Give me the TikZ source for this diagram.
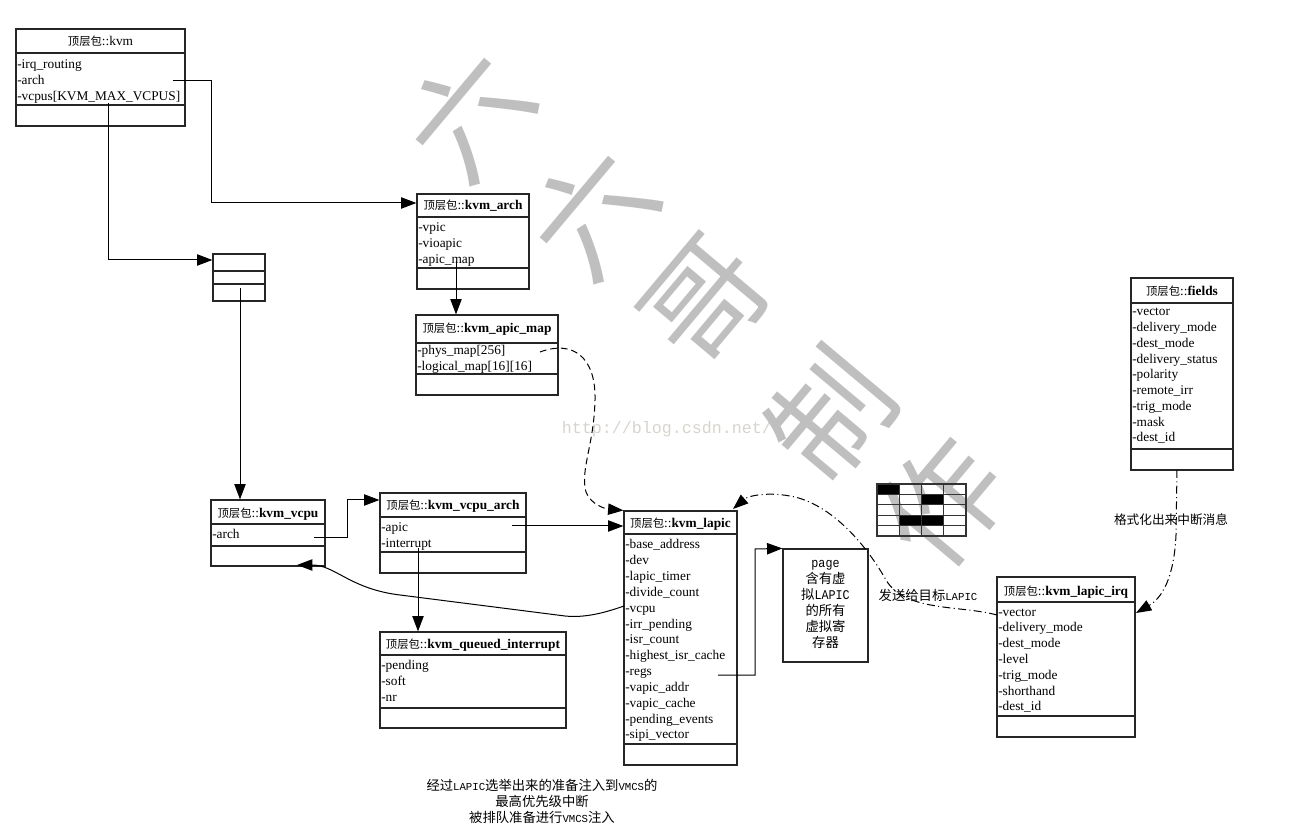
\documentclass[tikz,border=0pt]{standalone}
\usepackage{fontspec}
\setmainfont{Liberation Serif}
\newfontfamily\cjk{Noto Sans CJK SC}
\newfontfamily\mono{Liberation Mono}
\usetikzlibrary{arrows.meta,fit,calc}
\newcommand{\pkg}{{\cjk\fontsize{8.5}{10}\selectfont 顶层包}::}
\newcommand{\lat}[1]{{\mono\fontsize{8}{10}\selectfont #1}}
\newcommand{\latb}[1]{{\mono\fontsize{10}{12}\selectfont\scalebox{0.88}[1]{#1}}}
\begin{document}
\begin{tikzpicture}[x=0.75pt,y=-0.75pt,
  cls/.style={draw=black!85, line width=0.9pt, inner sep=0pt},
  sepline/.style={draw=black!85, line width=0.9pt},
  attr/.style={anchor=base west, inner sep=0pt, font=\fontsize{10}{12}\selectfont},
  ttl/.style={anchor=base, inner sep=0pt, font=\fontsize{10}{12}\selectfont},
  conn/.style={line width=0.75pt, -{Triangle[length=11.5pt,width=8.5pt]}},
  dashpat/.style={dash pattern=on 5pt off 3pt},
  dashdotpat/.style={dash pattern=on 6pt off 2.5pt on 0.8pt off 2.5pt},
  lbl/.style={inner sep=0pt, font=\cjk\fontsize{10}{12}\selectfont, align=center},
  wm/.style={rotate=50, text=black!25, inner sep=0pt, font=\cjk\fontsize{90}{90}\selectfont}]
\useasboundingbox (0,0) rectangle (1314,837);

% ---- watermark (behind)
\node[inner sep=0pt, text={rgb,255:red,215;green,212;blue,205}, font=\mono\fontsize{12.5}{14}\selectfont] (url) at (667,429) {http://blog.csdn.net/};
\foreach \ch/\px/\py [count=\i] in {六/468/114,六/592/212,哥/706/302,制/830/414,作/942/502}
  \node[wm] (wm\i) at (\px,\py) {\ch};

% ---- kvm
\node[cls, fit={(16,29)(185,126)}] (kvm) {};
\draw[sepline] (16,53) -- (185,53) (16,105) -- (185,105);
\node[ttl] (kvm-t) at (100.5,46) {\pkg kvm};
\node[attr] (kvm-a0) at (17,68.5) {-irq\_routing};
\node[attr] (kvm-a1) at (17,84.5) {-arch};
\node[attr] (kvm-a2) at (17,100.5) {-vcpus[KVM\_MAX\_VCPUS]};

% ---- array
\node[cls, fit={(213,254)(265,301)}] (arr) {};
\draw[sepline] (213,271) -- (265,271) (213,284) -- (265,284);

% ---- kvm_arch
\node[cls, fill=white, fit={(417,194)(529,289)}] (kvmarch) {};
\draw[sepline] (417,217) -- (529,217) (417,268) -- (529,268);
\node[ttl] (kvmarch-t) at (473,209.5) {\pkg\textbf{kvm\_arch}};
\foreach \t [count=\i from 0] in {-vpic,-vioapic,-apic\_map}
  \node[attr] (kvmarch-a\i) at (418,231.5+15.8*\i) {\t};

% ---- kvm_apic_map
\node[cls, fit={(416,315)(558,395)}] (apicmap) {};
\draw[sepline] (416,343) -- (558,343) (416,374) -- (558,374);
\node[ttl] (apicmap-t) at (487,333) {\pkg\textbf{kvm\_apic\_map}};
\node[attr] (apicmap-a0) at (417,355) {-phys\_map[256]};
\node[attr] (apicmap-a1) at (417,370.5) {-logical\_map[16][16]};

% ---- kvm_vcpu
\node[cls, fit={(211,500)(325,566)}] (vcpu) {};
\draw[sepline] (211,524) -- (325,524) (211,546) -- (325,546);
\node[ttl] (vcpu-t) at (268,517.5) {\pkg\textbf{kvm\_vcpu}};
\node[attr] (vcpu-a0) at (212,538.5) {-arch};

% ---- kvm_vcpu_arch
\node[cls, fit={(380,493)(526,573)}] (vcpuarch) {};
\draw[sepline] (380,517) -- (526,517) (380,552) -- (526,552);
\node[ttl] (vcpuarch-t) at (453,509.5) {\pkg\textbf{kvm\_vcpu\_arch}};
\node[attr] (vcpuarch-a0) at (381,531.5) {-apic};
\node[attr] (vcpuarch-a1) at (381,547.5) {-interrupt};

% ---- kvm_queued_interrupt
\node[cls, fit={(380,632)(566,728)}] (queued) {};
\draw[sepline] (380,655) -- (566,655) (380,708) -- (566,708);
\node[ttl] (queued-t) at (473,648.5) {\pkg\textbf{kvm\_queued\_interrupt}};
\foreach \t [count=\i from 0] in {-pending,-soft,-nr}
  \node[attr] (queued-a\i) at (381,669.5+16*\i) {\t};

% ---- kvm_lapic
\node[cls, fit={(624,511)(737,765)}] (lapic) {};
\draw[sepline] (624,534) -- (737,534) (624,744) -- (737,744);
\node[ttl] (lapic-t) at (680.5,527.5) {\pkg\textbf{kvm\_lapic}};
\foreach \t [count=\i from 0] in {-base\_address,-dev,-lapic\_timer,-divide\_count,-vcpu,-irr\_pending,-isr\_count,-highest\_isr\_cache,-regs,-vapic\_addr,-vapic\_cache,-pending\_events,-sipi\_vector}
  \node[attr] (lapic-a\i) at (625,549+15.83*\i) {\t};

% ---- page
\node[cls, fit={(783,549)(868,662)}] (page) {};
\node[lbl, font=\cjk\fontsize{10}{12}\selectfont] (page-t) at (825.5,604)
  {\latb{page}\\含有虚\\拟\latb{LAPIC}\\的所有\\虚拟寄\\存器};

% ---- fields
\node[cls, fit={(1131,278)(1233,470)}] (fields) {};
\draw[sepline] (1131,303) -- (1233,303) (1131,449) -- (1233,449);
\node[ttl] (fields-t) at (1182,296) {\pkg\textbf{fields}};
\foreach \t [count=\i from 0] in {-vector,-delivery\_mode,-dest\_mode,-delivery\_status,-polarity,-remote\_irr,-trig\_mode,-mask,-dest\_id}
  \node[attr] (fields-a\i) at (1132,316+15.75*\i) {\t};

% ---- kvm_lapic_irq
\node[cls, fit={(997,577)(1135,737)}] (irq) {};
\draw[sepline] (997,602) -- (1135,602) (997,716) -- (1135,716);
\node[ttl] (irq-t) at (1066,595.5) {\pkg\textbf{kvm\_lapic\_irq}};
\foreach \t [count=\i from 0] in {-vector,-delivery\_mode,-dest\_mode,-level,-trig\_mode,-shorthand,-dest\_id}
  \node[attr] (irq-a\i) at (998,616+15.83*\i) {\t};

% ---- grid icon
\fill[black] (877,484) rectangle (899.25,494.4);
\fill[black] (921.5,494.4) rectangle (943.75,504.8);
\fill[black] (899.25,515.2) rectangle (943.75,525.6);
\foreach \r in {0,...,4}
  \foreach \c in {0,...,3}
    \draw[line width=0.8pt, black!80] (877+22.25*\c,484+10.4*\r) rectangle ++(22.25,10.4);

% ---- labels
\node[lbl] (send) at (928,595) {发送给目标\lat{LAPIC}};
\node[lbl, font=\cjk\fontsize{9.5}{12}\selectfont] (fmt) at (1171,520) {格式化出来中断消息};
\node[lbl] (note) at (542,801) {经过\lat{LAPIC}选举出来的准备注入到\lat{VMCS}的\\最高优先级中断\\被排队准备进行\lat{VMCS}注入};

% ---- connectors
\coordinate (a-kvm-arch) at (173,81);
\coordinate (j1) at (211,203);
\draw[conn] (a-kvm-arch) -| (j1) -- (j1 -| kvmarch.west);

\coordinate (a-kvm-vcpus) at (108,103);
\coordinate (j2) at (108,260);
\draw[conn] (a-kvm-vcpus) -- (j2) -- (j2 -| arr.west);

\coordinate (a-arr) at (240,288);
\draw[conn] (a-arr) -- (a-arr |- vcpu.north);

\coordinate (a-apicmap) at (456,261);
\draw[conn] (a-apicmap) -- (a-apicmap |- apicmap.north);

\coordinate (a-phys) at (540,352);
\draw[conn,dashpat] (a-phys) .. controls (572,340) and (596,356) .. (595,400)
  .. controls (594,445) and (580,470) .. (586,492)
  .. controls (591,505) and (606,509) .. (lapic.north west);

\coordinate (a-vcpu-arch) at (314,538);
\coordinate (j3) at (347,500);
\draw[conn] (a-vcpu-arch) -| (j3) -- (j3 -| vcpuarch.west);

\coordinate (a-va-apic) at (512,526);
\draw[conn] (a-va-apic) -- (a-va-apic -| lapic.west);

\coordinate (a-va-int) at (418,548);
\draw[conn] (a-va-int) -- (a-va-int |- queued.north);

\coordinate (a-lapic-vcpu) at (624,606);
\coordinate (t-vcpu) at (297,565);
\draw[conn] (a-lapic-vcpu) .. controls (604,613) and (585,618) .. (565,616)
  -- (400,595) .. controls (350,589) and (335,565) .. (t-vcpu);

\coordinate (a-regs) at (718,675);
\coordinate (j4) at (755,549);
\draw[conn] (a-regs) -| (j4) -- (page.north west);

\coordinate (a-fields) at (1177,470);
\coordinate (t-irq) at (1136,613);
\draw[conn,dashdotpat] (a-fields) -- (1176,535)
  .. controls (1174,578) and (1162,598) .. (t-irq);

\coordinate (a-irq) at (997,615);
\coordinate (t-lapic) at (733,509);
\draw[conn,dashdotpat] (a-irq) .. controls (960,605) and (905,612) .. (886,580)
  .. controls (868,548) and (835,507) .. (795,497)
  .. controls (768,491) and (748,496) .. (t-lapic);
\end{tikzpicture}
\end{document}
